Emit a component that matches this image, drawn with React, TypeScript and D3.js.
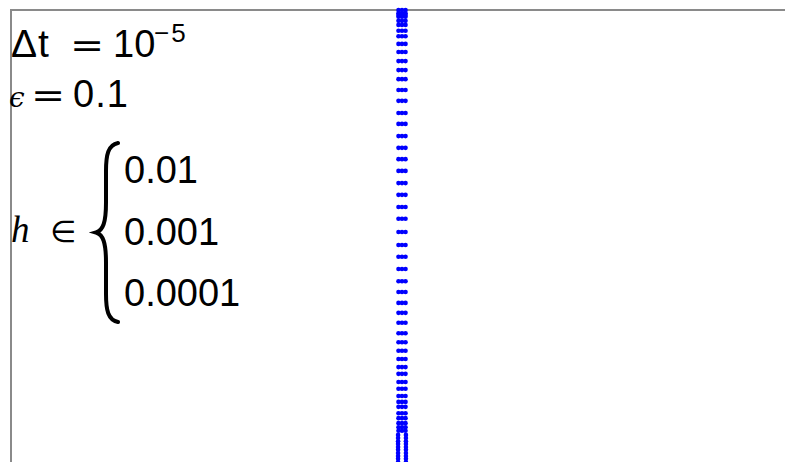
import React from 'react';
import * as d3 from 'd3';

// y positions of the samples (normalised, 1 = top of the frame)
const yValues = [
  1.0, 0.993, 0.989, 0.985, 0.976, 0.967, 0.954, 0.942, 0.925, 0.907, 0.887,
  0.867, 0.847, 0.823, 0.799, 0.772, 0.748, 0.721, 0.695, 0.67, 0.644, 0.617,
  0.591, 0.564, 0.538, 0.509, 0.48, 0.454, 0.427, 0.4, 0.376, 0.352, 0.33,
  0.308, 0.285, 0.265, 0.246, 0.228, 0.21, 0.195, 0.177, 0.162, 0.146, 0.133,
  0.122, 0.108, 0.097, 0.086, 0.077, 0.069, 0.06, 0.053, 0.046, 0.04, 0.033,
  0.027, 0.02, 0.013, 0.007, 0.0,
];

const hValues = ['0.01', '0.001', '0.0001'];
// horizontal position of each h series (near x = 0)
const seriesX = [-0.009, 0.0, 0.009];
const seriesXBottom = [-0.01, null, 0.01];
const splitY = 0.065;

const width = 785;
const height = 462;

const Eq = ({ x, y }: { x: number; y: number }) => (
  <text transform={`translate(${x - 3},${y}) scale(1.2,1)`} fontFamily="DejaVu Sans" fontSize={34}>
    =
  </text>
);

const App = () => {
  const x = d3.scaleLinear().domain([-1, 1]).range([10, 794]);
  const y = d3.scaleLinear().domain([0, 1]).range([462, 10]);

  // big left brace
  const bx = 118;
  const top = 143;
  const bot = 322;
  const mid = (top + bot) / 2;
  const brace = d3.path();
  brace.moveTo(bx, top);
  brace.bezierCurveTo(bx - 10, top + 2, bx - 12, top + 12, bx - 12, top + 28);
  brace.lineTo(bx - 12, mid - 30);
  brace.bezierCurveTo(bx - 12, mid - 10, bx - 15, mid - 2, bx - 22, mid);
  brace.bezierCurveTo(bx - 15, mid + 2, bx - 12, mid + 10, bx - 12, mid + 30);
  brace.lineTo(bx - 12, bot - 28);
  brace.bezierCurveTo(bx - 12, bot - 12, bx - 10, bot - 2, bx, bot);

  const sans = 'Liberation Sans, Arial, sans-serif';
  const serif = 'DejaVu Serif, serif';

  return (
    <svg
      width={width}
      height={height}
      style={{ position: 'absolute', left: 0, top: 0, background: '#fff' }}
    >
      <rect x={0} y={0} width={width} height={height} fill="#fff" />
      <line x1={11} y1={9} x2={11} y2={height} stroke="#8a8a8a" strokeWidth={2} />
      <line x1={10} y1={10} x2={width} y2={10} stroke="#8a8a8a" strokeWidth={2} />

      {seriesX.map((sx, i) => (
        <g key={hValues[i]}>
          {yValues.map((v, j) => {
            const px = v < splitY ? seriesXBottom[i] : sx;
            if (px === null) return null;
            return <circle key={j} cx={x(px)} cy={y(v)} r={2.3} fill="#0000ff" />;
          })}
        </g>
      ))}

      <g fill="#000">
        <text x={11} y={57} fontFamily={sans} fontSize={39} letterSpacing={1}>Δt</text>
        <Eq x={73} y={57} />
        <text x={113} y={57} fontFamily={sans} fontSize={38}>10</text>
        <text x={154} y={42} fontFamily={sans} fontSize={26} letterSpacing={2}>−5</text>

        <text x={9} y={107} fontFamily={serif} fontStyle="italic" fontSize={28}>ϵ</text>
        <Eq x={34} y={107} />
        <text x={73} y={107} fontFamily={sans} fontSize={38} letterSpacing={1}>0.1</text>

        <text x={11} y={242} fontFamily="Liberation Serif" fontStyle="italic" fontSize={37}>h</text>
        <text x={50} y={242} fontFamily="DejaVu Sans" fontSize={30}>∈</text>
        <path d={brace.toString()} fill="none" stroke="#000" strokeWidth={4} strokeLinecap="round" />
        {hValues.map((h, i) => (
          <text key={h} x={124} y={183 + i * 61.5} fontFamily={sans} fontSize={38}>
            {h}
          </text>
        ))}
      </g>
    </svg>
  );
};

export default App;
